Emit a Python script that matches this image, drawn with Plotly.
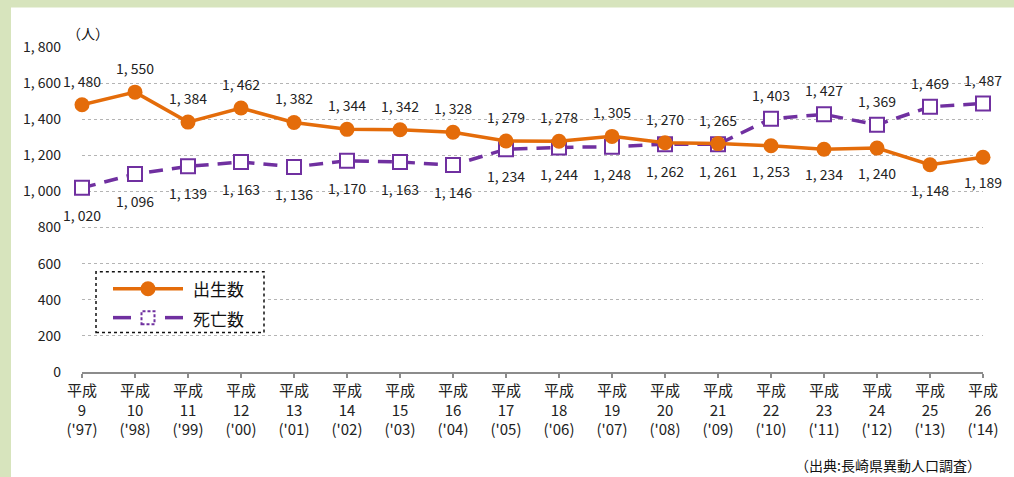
import plotly.graph_objects as go

# 年次（和暦と西暦）
nendo = ["9", "10", "11", "12", "13", "14", "15", "16", "17",
         "18", "19", "20", "21", "22", "23", "24", "25", "26"]
seireki = ["97", "98", "99", "00", "01", "02", "03", "04", "05",
           "06", "07", "08", "09", "10", "11", "12", "13", "14"]

shussei = [1480, 1550, 1384, 1462, 1382, 1344, 1342, 1328, 1279,
           1278, 1305, 1270, 1265, 1253, 1234, 1240, 1148, 1189]
shibou = [1020, 1096, 1139, 1163, 1136, 1170, 1163, 1146, 1234,
          1244, 1248, 1262, 1261, 1403, 1427, 1369, 1469, 1487]

y_ticks = [0, 200, 400, 600, 800, 1000, 1200, 1400, 1600, 1800]

ORANGE = "#E46C0A"
PURPLE = "#7030A0"
FONT = "Noto Sans CJK JP"

# ピクセル -> paper座標（プロット領域 x:82-983, y:46.7-372.5）
L, R, T, B = 82, 983, 46.7, 372.5


def px2x(px):
    return (px - L) / (R - L)


def px2y(py):
    return (B - py) / (B - T)


def fmt(v):
    return f"{v:,}".replace(",", ", ")


kategori = [f"平成<br>{n}<br>('{s})" for n, s in zip(nendo, seireki)]

fig = go.Figure()
fig.add_trace(go.Scatter(
    x=kategori, y=shibou, mode="lines+markers", name="死亡数",
    line=dict(color=PURPLE, width=3.5, dash="14px,9px"),
    marker=dict(symbol="square", size=14, color="white",
                line=dict(color=PURPLE, width=2)),
    cliponaxis=False, showlegend=False
))
fig.add_trace(go.Scatter(
    x=kategori, y=shussei, mode="lines+markers", name="出生数",
    line=dict(color=ORANGE, width=3.5),
    marker=dict(symbol="circle", size=15, color=ORANGE),
    cliponaxis=False, showlegend=False
))

# データラベル
annotations = []
for k, b, d in zip(kategori, shussei, shibou):
    ue = b >= d
    annotations.append(dict(x=k, y=b, text=fmt(b), showarrow=False,
                            yshift=24 if ue else -25,
                            font=dict(size=14, color="#222")))
    annotations.append(dict(x=k, y=d, text=fmt(d), showarrow=False,
                            yshift=-27 if ue else 24,
                            font=dict(size=14, color="#222")))


def paper_text(px, py, text, size=14, xanchor="center"):
    return dict(x=px2x(px), y=px2y(py), xref="paper", yref="paper",
                xanchor=xanchor, yanchor="middle", text=text, showarrow=False,
                font=dict(size=size, color="#111"))


annotations.append(paper_text(88, 33, "（人）"))
annotations.append(paper_text(983, 466, "（出典:長崎県異動人口調査）", xanchor="right"))
annotations.append(paper_text(191, 289, "出生数", size=17, xanchor="left"))
annotations.append(paper_text(191, 319, "死亡数", size=17, xanchor="left"))

GREEN = "#D7E4BD"
shapes = [
    # 背景の緑枠
    dict(type="rect", xref="paper", yref="paper", x0=px2x(-1), x1=px2x(11),
         y0=px2y(478), y1=px2y(-1), fillcolor=GREEN, line_width=0, layer="below"),
    dict(type="rect", xref="paper", yref="paper", x0=px2x(-1), x1=px2x(1015),
         y0=px2y(7), y1=px2y(-1), fillcolor=GREEN, line_width=0, layer="below"),
    # 凡例の枠
    dict(type="rect", xref="paper", yref="paper", x0=px2x(96), x1=px2x(264),
         y0=px2y(333), y1=px2y(272), fillcolor="white",
         line=dict(color="#111", width=1.5, dash="dot")),
    # 凡例：出生数
    dict(type="line", xref="paper", yref="paper", x0=px2x(113), x1=px2x(183),
         y0=px2y(289), y1=px2y(289), line=dict(color=ORANGE, width=3.5)),
    dict(type="circle", xref="paper", yref="paper", xsizemode="pixel", ysizemode="pixel",
         xanchor=px2x(148), yanchor=px2y(289), x0=-7.5, x1=7.5, y0=-7.5, y1=7.5,
         fillcolor=ORANGE, line_width=0),
    # 凡例：死亡数
    dict(type="line", xref="paper", yref="paper", x0=px2x(113), x1=px2x(131),
         y0=px2y(318), y1=px2y(318), line=dict(color=PURPLE, width=3.5)),
    dict(type="line", xref="paper", yref="paper", x0=px2x(165), x1=px2x(183),
         y0=px2y(318), y1=px2y(318), line=dict(color=PURPLE, width=3.5)),
    dict(type="rect", xref="paper", yref="paper", xsizemode="pixel", ysizemode="pixel",
         xanchor=px2x(148), yanchor=px2y(318), x0=-6.5, x1=6.5, y0=-6.5, y1=6.5,
         fillcolor="white", line=dict(color=PURPLE, width=2, dash="3px,2px")),
]

fig.update_layout(
    width=1014, height=477,
    margin=dict(l=L, r=1014 - R, t=T, b=477 - B),
    paper_bgcolor="white", plot_bgcolor="white",
    font=dict(family=FONT, size=14, color="#222"),
    annotations=annotations, shapes=shapes,
    xaxis=dict(
        range=[0, len(kategori) - 1], showgrid=False,
        showline=True, linecolor="#8c8c8c", linewidth=2,
        ticks="outside", ticklen=4, tickcolor="#8c8c8c", tickwidth=1.5,
        tickfont=dict(size=15, color="#222"), fixedrange=True
    ),
    yaxis=dict(
        range=[0, 1800], tickvals=y_ticks, ticktext=[fmt(v) for v in y_ticks],
        showgrid=True, gridcolor="#b4b4b4", griddash="dot", gridwidth=1,
        zeroline=False, showline=False, ticks="", ticklabelstandoff=20,
        tickfont=dict(size=14, color="#222"), fixedrange=True
    ),
)

fig.write_html("out.html", config={"displayModeBar": False},
               post_script="document.body.style.margin='0';document.body.style.overflow='hidden';")
